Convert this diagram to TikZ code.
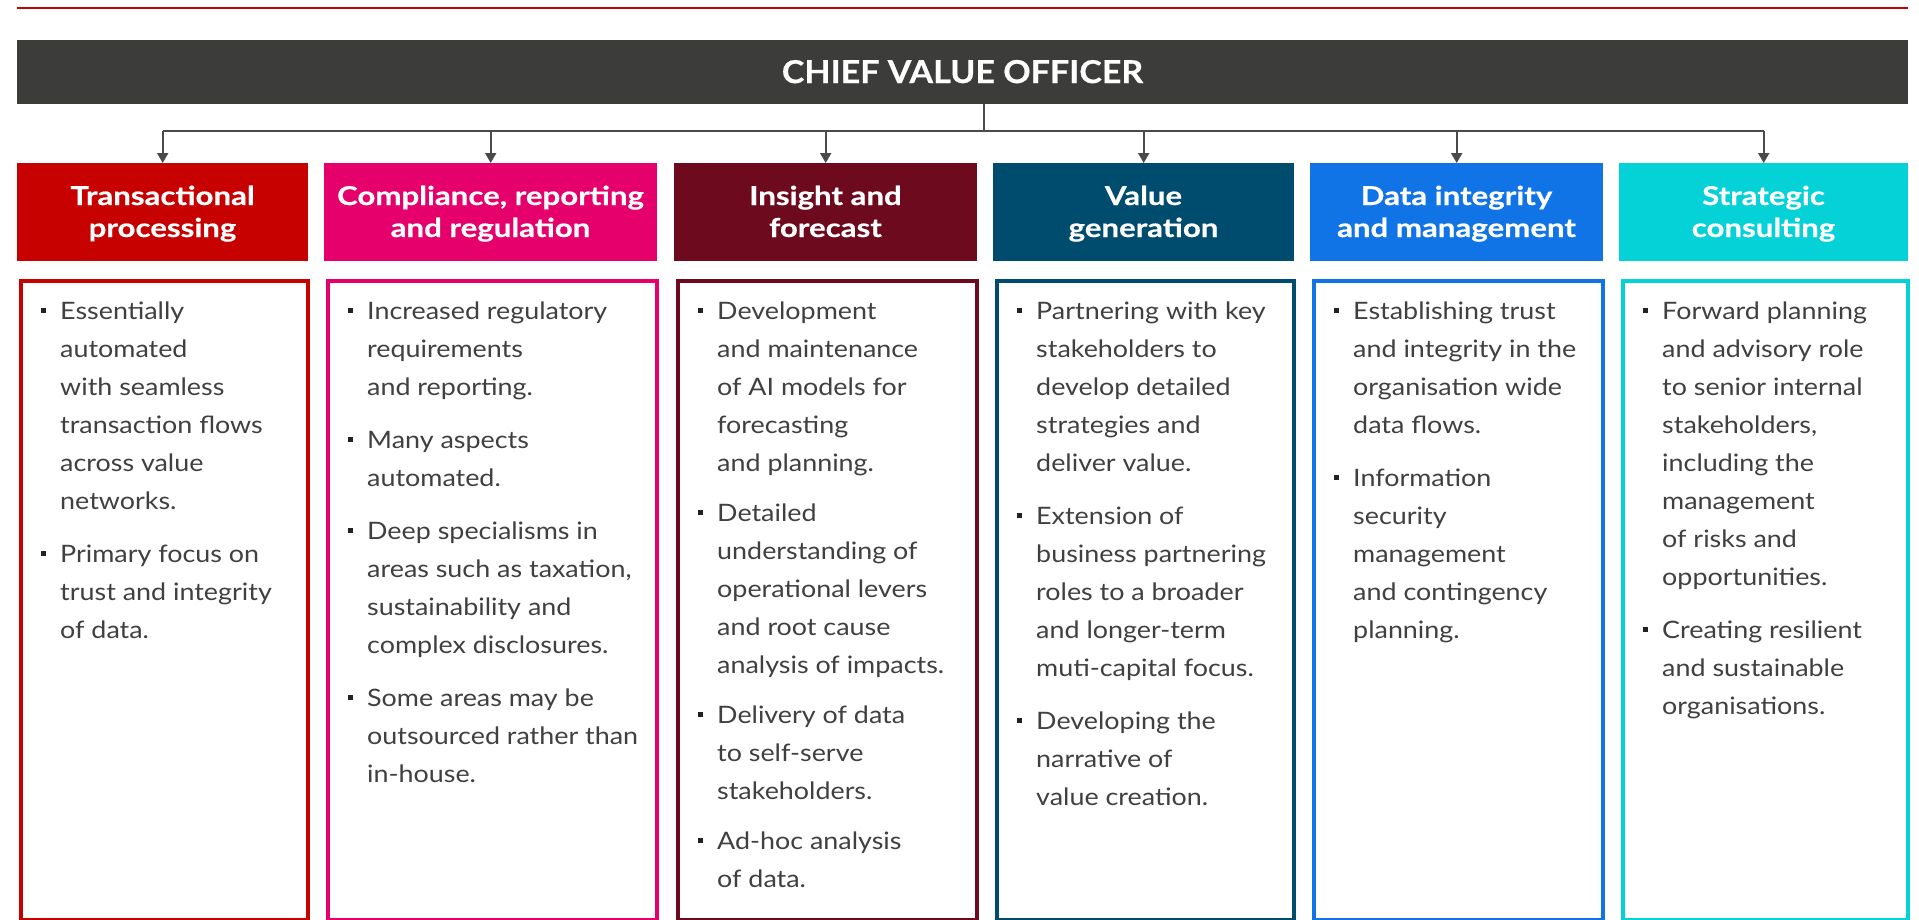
\documentclass[tikz,border=0pt]{standalone}
\usepackage{fontspec}
\setmainfont{Lato}[FakeStretch=1.12]
\newfontfamily\hfont{Lato}[FakeStretch=1.2, BoldFeatures={FakeBold=0.5}]
\newfontfamily\tfont{Lato}[FakeStretch=1.08, BoldFeatures={FakeBold=0.5}]
\usetikzlibrary{arrows.meta}
\definecolor{cA}{HTML}{C70000}
\definecolor{cB}{HTML}{E5006B}
\definecolor{cC}{HTML}{6D0A1E}
\definecolor{cD}{HTML}{004C6F}
\definecolor{cE}{HTML}{1174E6}
\definecolor{cF}{HTML}{04D2D7}
\definecolor{hdrcol}{HTML}{3C3C3B}
\definecolor{txtcol}{HTML}{404040}
\definecolor{bulcol}{HTML}{222222}
\definecolor{conncol}{HTML}{4A4A4A}
\newcommand\bul{\leavevmode\llap{\textcolor{bulcol}{\rule[6pt]{5.5pt}{5.5pt}}\hspace{14pt}}}
\newcommand\btext[2]{\parbox[t]{#1}{\raggedright\fontsize{24}{38}\selectfont #2}}
\newcommand\htext[2]{\parbox[t]{#1}{\centering\hfont\fontsize{26}{32}\selectfont\bfseries #2}}
\tikzset{
  x=1pt, y=-1pt,
  headbox/.style={fill=#1, draw=none, inner sep=0, anchor=north west, minimum height=98pt},
  bodybox/.style={draw=#1, line width=4pt, inner sep=0, anchor=north west, minimum height=639pt},
  conn/.style={draw=conncol, line width=2pt},
  arr/.style={conn, -{Triangle[width=11pt,length=10pt]}},
  headtxt/.style={text=white, anchor=base, inner sep=0},
  bodytxt/.style={text=txtcol, anchor=base west, inner sep=0},
  redrule/.style={draw=cA, line width=2.5pt}
}
\begin{document}
\begin{tikzpicture}
\useasboundingbox (0,0) rectangle (1919,919);
\fill[white] (0,0) rectangle (1919,919);
% top rule
\coordinate (rl) at (17,8);
\coordinate (rr) at (1908,8);
\draw[redrule] (rl) -- (rr);
% header
\node[fill=hdrcol, inner sep=0, anchor=north west, minimum width=1891pt, minimum height=64pt] (hdr) at (17,40) {};
\node[text=white, anchor=base, inner sep=0, font=\tfont\fontsize{31.5}{36}\selectfont\bfseries] (hdrtxt) at (962.5,83) {CHIEF VALUE OFFICER};
% coloured heads
\node[headbox=cA, minimum width=291pt] (h1) at (17,163) {};
\node[headbox=cB, minimum width=333pt] (h2) at (324,163) {};
\node[headbox=cC, minimum width=303pt] (h3) at (674,163) {};
\node[headbox=cD, minimum width=301pt] (h4) at (993,163) {};
\node[headbox=cE, minimum width=293pt] (h5) at (1310,163) {};
\node[headbox=cF, minimum width=289pt] (h6) at (1619,163) {};
\node[headtxt] (ht1) at (162.5,205) {\htext{285pt}{Transactional\\processing}};
\node[headtxt] (ht2) at (490.5,205) {\htext{330pt}{Compliance, reporting\\and regulation}};
\node[headtxt] (ht3) at (825.5,205) {\htext{295pt}{Insight and\\forecast}};
\node[headtxt] (ht4) at (1143.5,205) {\htext{295pt}{Value\\generation}};
\node[headtxt] (ht5) at (1456.5,205) {\htext{290pt}{Data integrity\\and management}};
\node[headtxt] (ht6) at (1763.5,205) {\htext{285pt}{Strategic\\consulting}};
% connectors
\coordinate (bus) at (0,131);
\coordinate (stem) at (984,0);
\draw[conn] (hdr.south -| stem) -- (stem |- bus);
\draw[conn] (h1.north |- bus) -- (h6.north |- bus);
\foreach \i in {1,...,6} \draw[arr] (h\i.north |- bus) -- (h\i.north);
% body boxes
\node[bodybox=cA, minimum width=287pt] (b1) at (19,279) {};
\node[bodybox=cB, minimum width=329pt] (b2) at (326,279) {};
\node[bodybox=cC, minimum width=299pt] (b3) at (676,279) {};
\node[bodybox=cD, minimum width=297pt] (b4) at (995,279) {};
\node[bodybox=cE, minimum width=289pt] (b5) at (1312,279) {};
\node[bodybox=cF, minimum width=285pt] (b6) at (1621,279) {};
% body texts
\node[bodytxt] (t1) at (60,319) {\btext{245pt}{%
\bul Essentially\\automated\\with seamless\\transaction flows\\across value\\networks.\\[15pt]
\bul Primary focus on\\trust and integrity\\of data.}};
\node[bodytxt] (t2) at (367,319) {\btext{285pt}{%
\bul Increased regulatory\\requirements\\and reporting.\\[15pt]
\bul Many aspects\\automated.\\[15pt]
\bul Deep specialisms in\\areas such as taxation,\\sustainability and\\complex disclosures.\\[15pt]
\bul Some areas may be\\outsourced rather than\\in-house.}};
\node[bodytxt] (t3) at (717,319) {\btext{255pt}{%
\bul Development\\and maintenance\\of AI models for\\forecasting\\and planning.\\[12pt]
\bul Detailed\\understanding of\\operational levers\\and root cause\\analysis of impacts.\\[12pt]
\bul Delivery of data\\to self-serve\\stakeholders.\\[12pt]
\bul Ad-hoc analysis\\of data.}};
\node[bodytxt] (t4) at (1036,319) {\btext{255pt}{%
\bul Partnering with key\\stakeholders to\\develop detailed\\strategies and\\deliver value.\\[15pt]
\bul Extension of\\business partnering\\roles to a broader\\and longer-term\\muti-capital focus.\\[15pt]
\bul Developing the\\narrative of\\value creation.}};
\node[bodytxt] (t5) at (1353,319) {\btext{245pt}{%
\bul Establishing trust\\and integrity in the\\organisation wide\\data flows.\\[15pt]
\bul Information\\security\\management\\and contingency\\planning.}};
\node[bodytxt] (t6) at (1662,319) {\btext{242pt}{%
\bul Forward planning\\and advisory role\\to senior internal\\stakeholders,\\including the\\management\\of risks and\\opportunities.\\[15pt]
\bul Creating resilient\\and sustainable\\organisations.}};
\end{tikzpicture}
\end{document}
